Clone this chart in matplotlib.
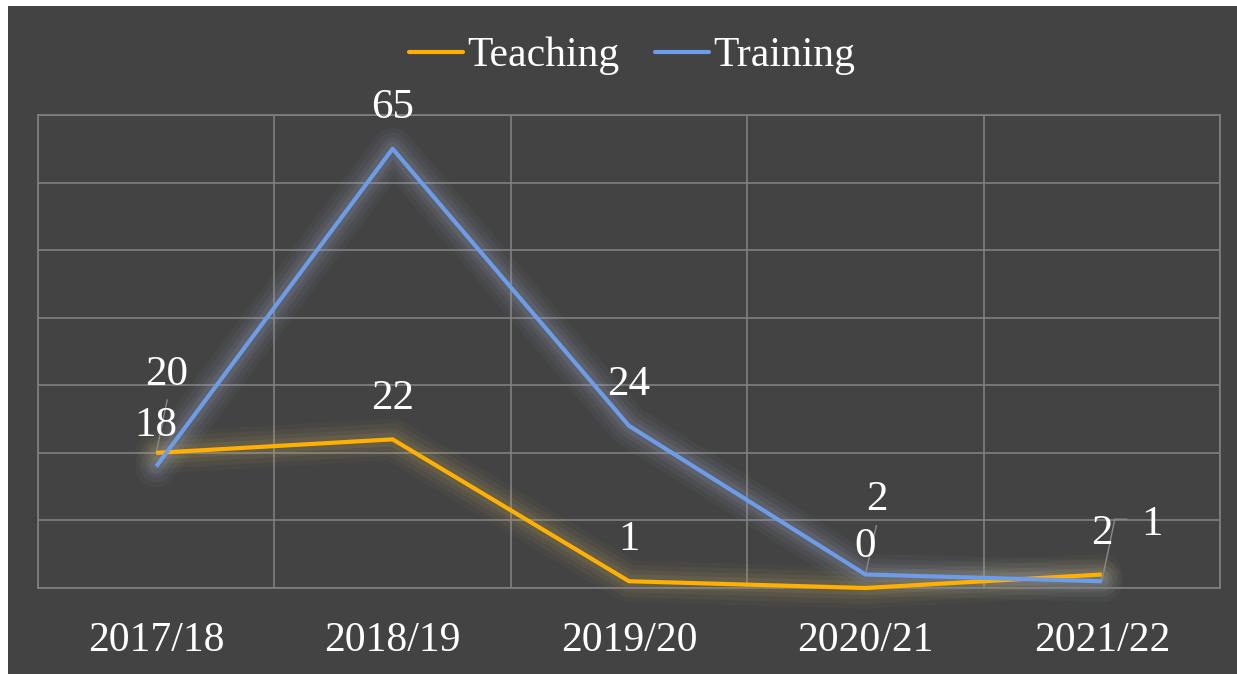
import matplotlib
matplotlib.use("Agg")
import matplotlib.pyplot as plt
from matplotlib.patches import Rectangle
from matplotlib.transforms import offset_copy

categories = ["2017/18", "2018/19", "2019/20", "2020/21", "2021/22"]
teaching = [20, 22, 1, 0, 2]
training = [18, 65, 24, 2, 1]

TEACH_C = "#FFB000"
TRAIN_C = "#6C9CEA"
BG = "#434343"
GRID = "#808080"

plt.rcParams['font.family'] = ['Liberation Serif', 'DejaVu Serif']

W, H = 1237, 674
fig = plt.figure(figsize=(W / 100, H / 100), dpi=100, facecolor=BG)
# white margins at top and left
fig.patches.append(Rectangle((0, 1 - 6 / H), 1, 6 / H, transform=fig.transFigure,
                             facecolor="white", edgecolor="none", zorder=0))
fig.patches.append(Rectangle((0, 0), 8 / W, 1, transform=fig.transFigure,
                             facecolor="white", edgecolor="none", zorder=0))

ax = fig.add_axes([38 / W, 1 - 588 / H, (1220 - 38) / W, (588 - 115) / H])
ax.set_zorder(2)
ax.set_facecolor(BG)
ax.set_xlim(-0.5, len(categories) - 0.5)
ax.set_ylim(0, 70)
ax.set_yticks(range(0, 71, 10))
ax.set_xticks([i - 0.5 for i in range(len(categories) + 1)])
ax.grid(True, color=GRID, lw=1.2)
ax.tick_params(axis="both", length=0, labelleft=False, labelbottom=False)
for s in ax.spines.values():
    s.set_color(GRID)
    s.set_linewidth(1.2)

x = list(range(len(categories)))
for i, c in enumerate(categories):
    ax.text(i, -0.112, c, transform=ax.get_xaxis_transform(), ha="center", va="center",
            fontsize=30, color="white", clip_on=False)

# glow
for lw, a in [(30, 0.05), (23, 0.07), (16, 0.09), (10, 0.12)]:
    ax.plot(x, teaching, color="#B8A460", lw=lw, alpha=a, solid_capstyle="round",
            solid_joinstyle="round", zorder=2, clip_on=False)
    ax.plot(x, training, color="#A0AAC4", lw=lw, alpha=a, solid_capstyle="round",
            solid_joinstyle="round", zorder=2, clip_on=False)

ax.plot(x, teaching, color=TEACH_C, lw=3, label="Teaching", zorder=4,
        solid_capstyle="butt", clip_on=False)
ax.plot(x, training, color=TRAIN_C, lw=3, label="Training", zorder=5,
        solid_capstyle="butt", clip_on=False)

# data labels: default offset above point (pixels); special offsets for some
default_off = (0, 41)
teach_off = {0: (10, 78)}
train_off = {3: (11, 75), 4: (50, 56)}

for i, v in enumerate(teaching):
    dx, dy = teach_off.get(i, default_off)
    ax.annotate(str(v), (i, v), xytext=(dx, dy), textcoords="offset pixels",
                ha="center", va="center", fontsize=31, color="white", zorder=6,
                annotation_clip=False)
for i, v in enumerate(training):
    dx, dy = train_off.get(i, default_off)
    ax.annotate(str(v), (i, v), xytext=(dx, dy), textcoords="offset pixels",
                ha="center", va="center", fontsize=31, color="white", zorder=6,
                annotation_clip=False)

# leader lines
lead_kw = dict(arrowstyle="-", color="#8A8A8A", lw=1, shrinkA=0, shrinkB=0)
ax.annotate("", (0, teaching[0]), xytext=(11, 53), textcoords="offset pixels",
            arrowprops=lead_kw, zorder=3)
ax.annotate("", (3, training[3]), xytext=(11, 49), textcoords="offset pixels",
            arrowprops=lead_kw, zorder=3)
ax.annotate("", (4, training[4]), xytext=(13, 62), textcoords="offset pixels",
            arrowprops=lead_kw, zorder=3)
ax.annotate("", (4, training[4]),
            xycoords=offset_copy(ax.transData, fig=fig, x=13, y=62, units="dots"),
            xytext=(12, 0), textcoords="offset pixels", arrowprops=lead_kw, zorder=3)

leg = fig.legend(loc="center", bbox_to_anchor=(632 / W, 1 - 56 / H), ncol=2,
                 frameon=False, fontsize=30, labelcolor="white", handlelength=1.3,
                 handletextpad=0.1, columnspacing=0.85)
for h in leg.get_lines():
    h.set_linewidth(3)
    h.set_solid_capstyle("round")

fig.savefig("out.png", dpi=100, facecolor=fig.get_facecolor())
